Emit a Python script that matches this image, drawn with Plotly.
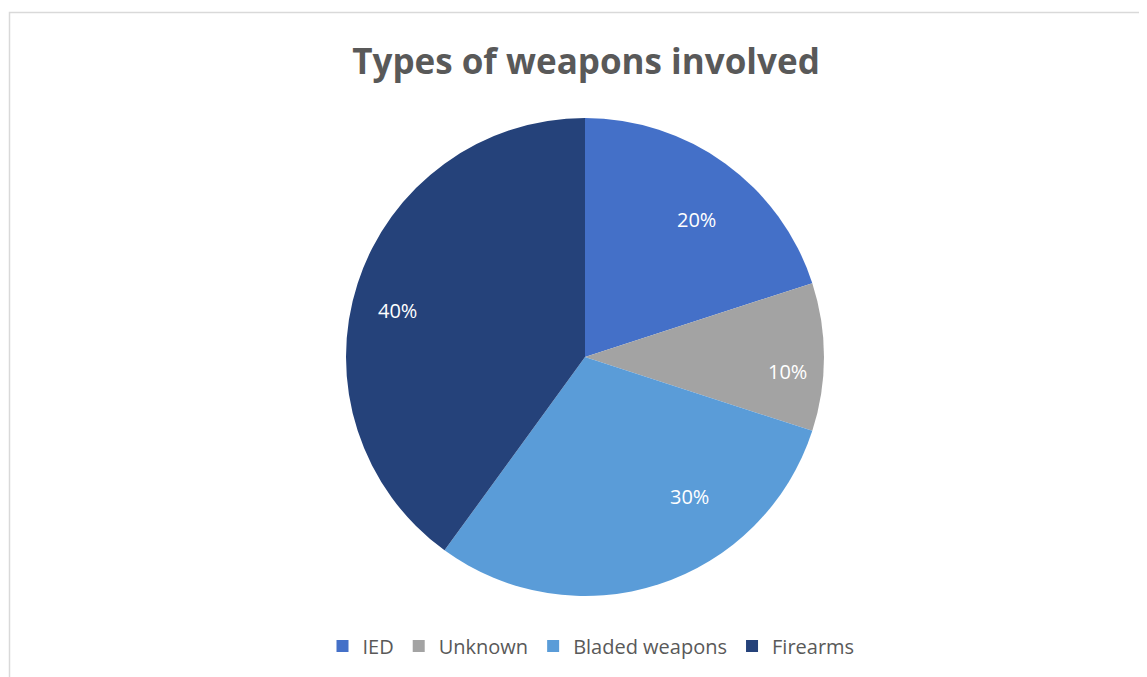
import math
import plotly.graph_objects as go

labels = ["IED", "Unknown", "Bladed weapons", "Firearms"]
values = [20, 10, 30, 40]
colors = ["#4470C8", "#A3A3A3", "#5A9CD8", "#25427A"]

# label placement style (radial fraction and small angular nudge per slice)
label_radius = [0.74, 0.85, 0.73, 0.81]
label_nudge_deg = [3, 4, -19, -4]

W, H = 1147, 677
OFF = 8  # page body margin
cx, cy, r = 585 - OFF, 357 - OFF, 239

fig = go.Figure(go.Pie(
    labels=labels, values=values, sort=False, direction="clockwise", rotation=0,
    marker=dict(colors=colors, line=dict(width=0)),
    textinfo="none", hoverinfo="label+percent",
    domain=dict(x=[(cx - r) / W, (cx + r) / W], y=[(H - cy - r) / H, (H - cy + r) / H]),
    showlegend=True,
))

total = sum(values)
annotations = []
acc = 0
for v, fr, nd in zip(values, label_radius, label_nudge_deg):
    mid = (acc + v / 2) / total * 360 + nd
    acc += v
    px = cx + fr * r * math.sin(math.radians(mid))
    py = cy - fr * r * math.cos(math.radians(mid))
    annotations.append(dict(x=px / W, y=1 - py / H, xref="paper", yref="paper",
                            xanchor="center", yanchor="middle",
                            text=f"{round(v / total * 100)}%", showarrow=False,
                            font=dict(color="white", size=20, family="Open Sans")))

fig.update_layout(
    width=W, height=H, margin=dict(l=0, r=0, t=0, b=0),
    paper_bgcolor="white", plot_bgcolor="white",
    title=dict(text="<b>Types of weapons involved</b>", x=(586 - OFF) / W, xanchor="center",
               y=1 - (62 - OFF) / H, yanchor="middle",
               font=dict(size=35, color="#595959", family="Open Sans")),
    legend=dict(orientation="h", x=(591 - OFF) / W, xanchor="center", y=1 - (646 - OFF) / H,
                yanchor="middle",
                font=dict(size=20, color="#595959", family="Open Sans"), itemwidth=30,
                traceorder="normal"),
    annotations=annotations,
    shapes=[dict(type="rect", xref="paper", yref="paper",
                 x0=(9.5 - OFF) / W, x1=1.05, y0=-0.05, y1=1 - (12.5 - OFF) / H,
                 line=dict(color="#D9D9D9", width=1.5), fillcolor="rgba(0,0,0,0)", layer="below")],
)

fig.write_html("out.html")
